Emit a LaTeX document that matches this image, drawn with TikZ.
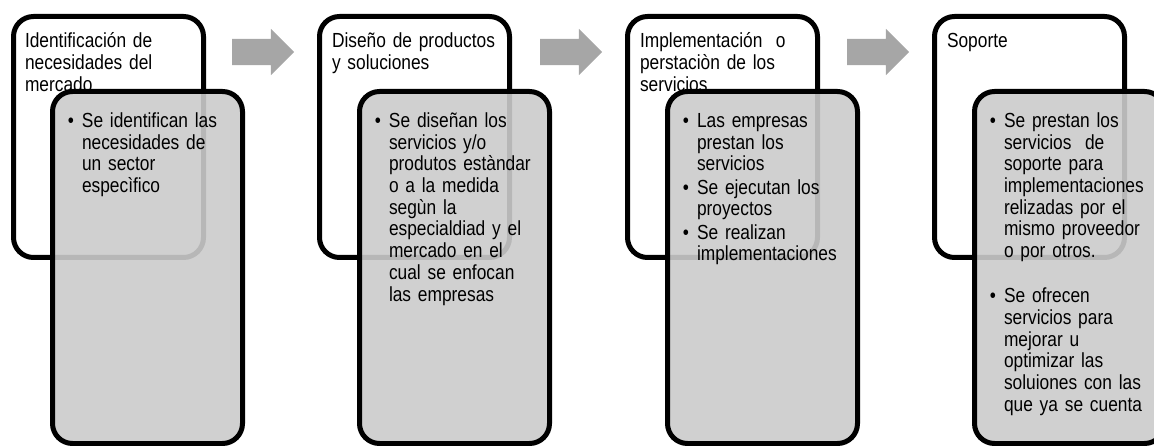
\documentclass[tikz,border=0pt]{standalone}
\usepackage{fontspec}
\setmainfont{Liberation Sans}[FakeStretch=0.85]
\usetikzlibrary{shapes.arrows}
\definecolor{boxgray}{RGB}{203,203,203}
\definecolor{arrowgray}{RGB}{166,166,166}
\newcommand{\bul}{\leavevmode\llap{\textbullet\hspace{8pt}}}
\begin{document}
\begin{tikzpicture}[x=1pt,y=-1pt,
  whitebox/.style={draw=black, line width=5pt, rounded corners=20pt, fill=white,
    minimum width=190pt, minimum height=241pt, anchor=north west, outer sep=0pt, inner sep=0pt},
  graybox/.style={draw=black, line width=5pt, rounded corners=20pt, fill=boxgray,
    fill opacity=0.9, draw opacity=1, minimum width=190pt, minimum height=352pt,
    anchor=north west, outer sep=0pt, inner sep=0pt},
  txt/.style={anchor=base west, align=left, inner sep=0pt, outer sep=0pt,
    font=\fontsize{20.4}{21.7}\selectfont},
  title/.style={txt, text width=185pt},
  body/.style={txt, text width=170pt},
  blockarrow/.style={single arrow, fill=arrowgray, draw=none, minimum height=62pt,
    single arrow head extend=10pt, inner xsep=0pt, inner ysep=13pt, outer sep=0pt,
    anchor=west, shape border rotate=0}
]
\path[use as bounding box] (0,0) rectangle (1154,446);
\clip (0,0) rectangle (1154,446);

% box 1
\node[whitebox] (w1) at (13.5,16.5) {};
\node[title] (t1) at (25,48) {Identificación de\\necesidades del\\mercado};
\node[graybox] (g1) at (52.5,91.5) {};
\node[body] (b1) at (82,127.5) {\bul Se identifican las\\necesidades de\\un sector\\especìfico};

% box 2
\node[whitebox] (w2) at (319.5,16.5) {};
\node[title] (t2) at (332,48) {Diseño de productos\\y soluciones};
\node[graybox] (g2) at (359.5,91.5) {};
\node[body] (b2) at (389,127.5) {\bul Se diseñan los\\servicios y/o\\produtos estàndar\\o a la medida\\segùn la\\especialdiad y el\\mercado en el\\cual se enfocan\\las empresas};

% box 3
\node[whitebox] (w3) at (627.5,16.5) {};
\node[title] (t3) at (640,48) {Implementación\ \ o\\perstaciòn de los\\servicios};
\node[graybox] (g3) at (667.5,91.5) {};
\node[body] (b3) at (697,127.5) {\bul Las empresas\\prestan los\\servicios\\[1.6pt]\bul Se ejecutan los\\proyectos\\[1.6pt]\bul Se realizan\\implementaciones};

% box 4
\node[whitebox] (w4) at (934.5,16.5) {};
\node[title] (t4) at (947,48) {Soporte};
\node[graybox] (g4) at (974.5,91.5) {};
\node[body] (b4) at (1004,127.5) {\bul Se prestan los\\servicios\ \ de\\soporte para\\implementaciones\\relizadas por el\\mismo proveedor\\o por otros.\\[23.3pt]\bul Se ofrecen\\servicios para\\mejorar u\\optimizar las\\soluiones con las\\que ya se cuenta};

% arrows
\node[blockarrow] (a1) at (232,52) {};
\node[blockarrow] (a2) at (540,52) {};
\node[blockarrow] (a3) at (847,52) {};
\end{tikzpicture}
\end{document}
